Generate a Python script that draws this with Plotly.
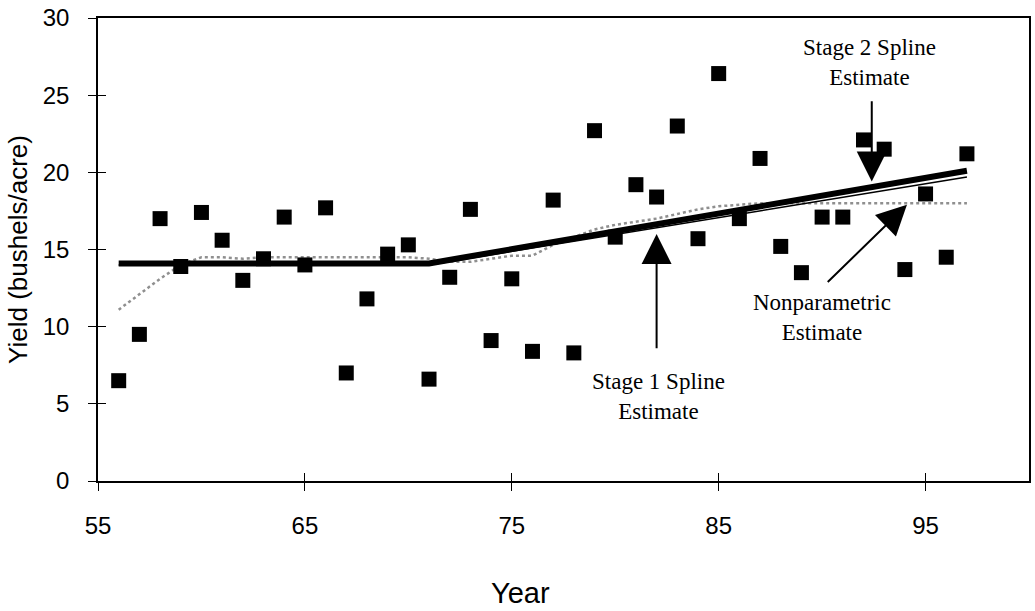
import plotly.graph_objects as go

# ---- data ----
years = list(range(56, 98))
yields = [6.5, 9.5, 17.0, 13.9, 17.4, 15.6, 13.0, 14.4, 17.1, 14.0,
          17.7, 7.0, 11.8, 14.7, 15.3, 6.6, 13.2, 17.6, 9.1, 13.1,
          8.4, 18.2, 8.3, 22.7, 15.8, 19.2, 18.4, 23.0, 15.7, 26.4,
          17.0, 20.9, 15.2, 13.5, 17.1, 17.1, 22.1, 21.5, 13.7, 18.6,
          14.5, 21.2]
nonparam = [11.1, 12.1, 13.1, 14.0, 14.5, 14.5, 14.4, 14.5, 14.5, 14.5,
            14.5, 14.5, 14.5, 14.5, 14.5, 14.4, 14.2, 14.2, 14.4, 14.6,
            14.6, 15.3, 15.8, 16.3, 16.6, 16.8, 17.0, 17.3, 17.6, 17.8,
            17.9, 18.0, 18.0, 18.0, 18.0, 18.0, 18.0, 18.0, 18.0, 18.0,
            18.0, 18.0]
spline_x = [56, 71, 97]
stage1 = [14.0, 14.0, 19.7]
stage2 = [14.1, 14.1, 20.1]

x_ticks = [55, 65, 75, 85, 95]
y_ticks = [0, 5, 10, 15, 20, 25, 30]

SANS = "Arial, Liberation Sans, sans-serif"
SERIF = "Times New Roman, Liberation Serif, serif"

fig = go.Figure()
fig.add_trace(go.Scatter(x=years, y=nonparam, mode="lines",
                         line=dict(color="#8f8f8f", width=2.5, dash="dot"),
                         showlegend=False))
fig.add_trace(go.Scatter(x=spline_x, y=stage2, mode="lines",
                         line=dict(color="black", width=6),
                         showlegend=False))
fig.add_trace(go.Scatter(x=spline_x, y=stage1, mode="lines",
                         line=dict(color="black", width=1.5),
                         showlegend=False))
fig.add_trace(go.Scatter(x=years, y=yields, mode="markers",
                         marker=dict(symbol="square", size=15, color="black"),
                         showlegend=False))
# invisible trace to anchor the overlay axes (inner half of the crossing ticks)
fig.add_trace(go.Scatter(x=[None], y=[None], xaxis="x2", yaxis="y2",
                         showlegend=False, hoverinfo="skip"))

axis_common = dict(showgrid=False, zeroline=False, showline=True,
                   linecolor="black", linewidth=1.5, mirror=True,
                   ticks="outside", ticklen=8, tickwidth=1.2, tickcolor="black",
                   tickfont=dict(family=SANS, size=24, color="black"))

fig.update_layout(
    width=1035, height=611,
    margin=dict(l=98, r=4, t=18, b=130),
    paper_bgcolor="white", plot_bgcolor="white",
    xaxis=dict(range=[55, 100], tickvals=x_ticks, ticklabelstandoff=14,
               **axis_common),
    yaxis=dict(range=[0, 30], tickvals=y_ticks, ticklabelstandoff=14,
               title=dict(text="Yield (bushels/acre)",
                          font=dict(family=SANS, size=26, color="black"),
                          standoff=8),
               **axis_common),
    xaxis2=dict(range=[55, 100], tickvals=x_ticks, overlaying="x", side="bottom",
                ticks="inside", ticklen=8, tickwidth=1.2, tickcolor="black",
                showticklabels=False, showgrid=False, zeroline=False, showline=False),
    yaxis2=dict(range=[0, 30], tickvals=y_ticks, overlaying="y", side="left",
                ticks="inside", ticklen=8, tickwidth=1.2, tickcolor="black",
                showticklabels=False, showgrid=False, zeroline=False, showline=False),
)

# x-axis title
fig.add_annotation(x=0.454, y=-0.242, xref="paper", yref="paper", showarrow=False,
                   text="Year", font=dict(family=SANS, size=29, color="black"),
                   xanchor="center", yanchor="middle")

label_font = dict(family=SERIF, size=23, color="black")
fig.add_annotation(x=92.3, y=27.1, xref="x", yref="y", showarrow=False,
                   text="Stage 2 Spline<br>Estimate", font=label_font)
fig.add_annotation(x=82.1, y=5.5, xref="x", yref="y", showarrow=False,
                   text="Stage 1 Spline<br>Estimate", font=label_font)
fig.add_annotation(x=90.0, y=10.6, xref="x", yref="y", showarrow=False,
                   text="Nonparametric<br>Estimate", font=label_font)

arrow = dict(xref="x", yref="y", axref="x", ayref="y", text="", showarrow=True,
             arrowhead=2, arrowsize=3, arrowwidth=2, arrowcolor="black")
fig.add_annotation(x=92.4, y=19.4, ax=92.4, ay=24.7, **arrow)
fig.add_annotation(x=82.0, y=16.0, ax=82.0, ay=8.5, **arrow)
fig.add_annotation(x=94.1, y=17.9, ax=90.2, ay=12.8, **arrow)

fig.write_html("out.html")
